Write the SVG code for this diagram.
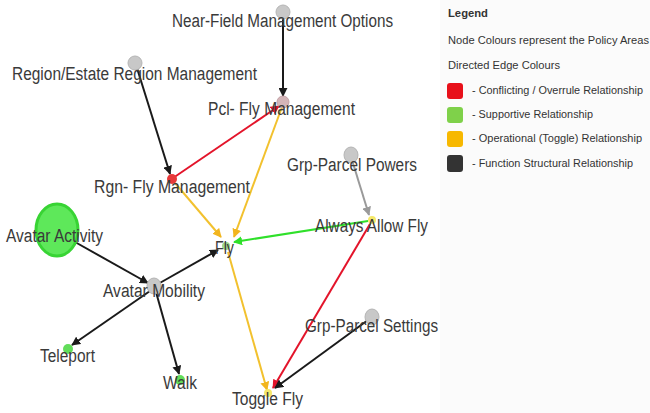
<svg xmlns="http://www.w3.org/2000/svg" width="650" height="413" viewBox="0 0 650 413">
<style>
.lbl{font-family:"Liberation Sans",Arial,sans-serif;font-size:18px;fill:#3a3a3a;}
.lg{font-family:"Liberation Sans",Arial,sans-serif;font-size:10px;fill:#333;}
.e{fill:none;stroke-width:2;}
.k{stroke:#1a1a1a;}
.r{stroke:#e3142a;}
.y{stroke:#f2c12e;}
.g{stroke:#2fe02a;}
.gr{stroke:#9a9a9a;}
.nd{fill:#c8c8c8;stroke:#b5b5b5;stroke-width:1;}
</style>
<defs>
<marker id="ak" viewBox="0 0 10 10" refX="9" refY="5" markerWidth="9" markerHeight="9" markerUnits="userSpaceOnUse" orient="auto"><path d="M0,0 L10,5 L0,10 z" fill="#1a1a1a"/></marker>
<marker id="ar" viewBox="0 0 10 10" refX="9" refY="5" markerWidth="9" markerHeight="9" markerUnits="userSpaceOnUse" orient="auto"><path d="M0,0 L10,5 L0,10 z" fill="#e3142a"/></marker>
<marker id="ay" viewBox="0 0 10 10" refX="9" refY="5" markerWidth="9" markerHeight="9" markerUnits="userSpaceOnUse" orient="auto"><path d="M0,0 L10,5 L0,10 z" fill="#f2b51e"/></marker>
<marker id="ag" viewBox="0 0 10 10" refX="9" refY="5" markerWidth="9" markerHeight="9" markerUnits="userSpaceOnUse" orient="auto"><path d="M0,0 L10,5 L0,10 z" fill="#2fe02a"/></marker>
<marker id="agr" viewBox="0 0 10 10" refX="9" refY="5" markerWidth="9" markerHeight="9" markerUnits="userSpaceOnUse" orient="auto"><path d="M0,0 L10,5 L0,10 z" fill="#9a9a9a"/></marker>
</defs>
<rect x="0" y="0" width="650" height="413" fill="#ffffff"/>
<rect x="440" y="0" width="210" height="413" fill="#fbfbfb"/>

<g id="connectors">
<line class="e k" x1="283" y1="18" x2="283" y2="96" marker-end="url(#ak)"/>
<line class="e k" x1="137" y1="68" x2="170" y2="174" marker-end="url(#ak)"/>
<line class="e r" x1="173" y1="178" x2="279" y2="106" marker-end="url(#ar)"/>
<line class="e y" x1="282" y1="107" x2="234" y2="237" marker-end="url(#ay)"/>
<line class="e y" x1="175" y1="183" x2="221" y2="237" marker-end="url(#ay)"/>
<line class="e gr" x1="352" y1="160" x2="369" y2="215" marker-end="url(#agr)"/>
<line class="e g" x1="368" y1="221" x2="234" y2="242" marker-end="url(#ag)"/>
<line class="e r" x1="370" y1="224" x2="273" y2="388" marker-end="url(#ar)"/>
<line class="e y" x1="228" y1="252" x2="267" y2="390" marker-end="url(#ay)"/>
<line class="e k" x1="75" y1="242" x2="148" y2="283" marker-end="url(#ak)"/>
<line class="e k" x1="158" y1="284" x2="218" y2="250" marker-end="url(#ak)"/>
<line class="e k" x1="150" y1="291" x2="72" y2="345" marker-end="url(#ak)"/>
<line class="e k" x1="156" y1="292" x2="179" y2="374" marker-end="url(#ak)"/>
<line class="e k" x1="368" y1="320" x2="275" y2="388" marker-end="url(#ak)"/>
</g>

<g id="n-nearfield"><ellipse class="nd" cx="283" cy="12" rx="7" ry="7"/><text class="lbl" x="172" y="27" textLength="221" lengthAdjust="spacingAndGlyphs">Near-Field Management Options</text></g>
<g id="n-region"><ellipse class="nd" cx="135" cy="63" rx="7" ry="7"/><text class="lbl" x="12" y="80" textLength="245" lengthAdjust="spacingAndGlyphs">Region/Estate Region Management</text></g>
<g id="n-pclfly"><ellipse cx="283" cy="102" rx="6" ry="6" fill="#d4b5b8" stroke="#c2a0a4"/><text class="lbl" x="208" y="115" textLength="147" lengthAdjust="spacingAndGlyphs">Pcl- Fly Management</text></g>
<g id="n-rgnfly"><ellipse cx="172" cy="179" rx="5" ry="5" fill="#e83a3a"/><text class="lbl" x="94" y="193" textLength="156" lengthAdjust="spacingAndGlyphs">Rgn- Fly Management</text></g>
<g id="n-grppowers"><ellipse class="nd" cx="351" cy="155" rx="7" ry="8"/><text class="lbl" x="287" y="171" textLength="130" lengthAdjust="spacingAndGlyphs">Grp-Parcel Powers</text></g>
<g id="n-alwaysfly"><ellipse cx="372" cy="220" rx="4" ry="4" fill="#f5e86a"/><text class="lbl" x="315" y="232" textLength="113" lengthAdjust="spacingAndGlyphs">Always Allow Fly</text></g>
<g id="n-avataractivity"><ellipse cx="57" cy="230" rx="21" ry="26" fill="#5ee85a" stroke="#38d434" stroke-width="3"/><text class="lbl" x="6" y="242" textLength="97" lengthAdjust="spacingAndGlyphs">Avatar Activity</text></g>
<g id="n-fly"><ellipse cx="226" cy="246" rx="4" ry="4" fill="#9fd68a"/><text class="lbl" x="215" y="254" textLength="19" lengthAdjust="spacingAndGlyphs">Fly</text></g>
<g id="n-avatarmobility"><ellipse class="nd" cx="154" cy="286" rx="7" ry="8"/><text class="lbl" x="103" y="297" textLength="102" lengthAdjust="spacingAndGlyphs">Avatar Mobility</text></g>
<g id="n-teleport"><ellipse cx="68" cy="349" rx="5" ry="5" fill="#62dd5a"/><text class="lbl" x="40" y="362" textLength="55" lengthAdjust="spacingAndGlyphs">Teleport</text></g>
<g id="n-walk"><ellipse cx="180" cy="380" rx="5" ry="5" fill="#62dd5a"/><text class="lbl" x="163" y="389" textLength="34" lengthAdjust="spacingAndGlyphs">Walk</text></g>
<g id="n-grpsettings"><ellipse class="nd" cx="372" cy="317" rx="7" ry="8"/><text class="lbl" x="305" y="332" textLength="133" lengthAdjust="spacingAndGlyphs">Grp-Parcel Settings</text></g>
<g id="n-togglefly"><ellipse cx="268" cy="393" rx="4" ry="4" fill="#f5e86a"/><text class="lbl" x="232" y="405" textLength="71" lengthAdjust="spacingAndGlyphs">Toggle Fly</text></g>

<g id="legend">
<text class="lg" x="448" y="17" font-weight="bold" font-size="11" textLength="40" lengthAdjust="spacingAndGlyphs">Legend</text>
<text class="lg" x="448" y="44" textLength="201" lengthAdjust="spacingAndGlyphs">Node Colours represent the Policy Areas</text>
<text class="lg" x="448" y="69" textLength="112" lengthAdjust="spacingAndGlyphs">Directed Edge Colours</text>
<rect x="447" y="83" width="16" height="16" rx="3" fill="#e8101a"/>
<rect x="447" y="107" width="16" height="16" rx="3" fill="#7fd14a"/>
<rect x="447" y="131" width="16" height="16" rx="3" fill="#f7b800"/>
<rect x="447" y="155" width="16" height="17" rx="3" fill="#333333"/>
<text class="lg" x="472" y="94" textLength="171" lengthAdjust="spacingAndGlyphs">- Conflicting / Overrule Relationship</text>
<text class="lg" x="472" y="118" textLength="121" lengthAdjust="spacingAndGlyphs">- Supportive Relationship</text>
<text class="lg" x="472" y="142" textLength="170" lengthAdjust="spacingAndGlyphs">- Operational (Toggle) Relationship</text>
<text class="lg" x="472" y="167" textLength="161" lengthAdjust="spacingAndGlyphs">- Function Structural Relationship</text>
</g>
</svg>
